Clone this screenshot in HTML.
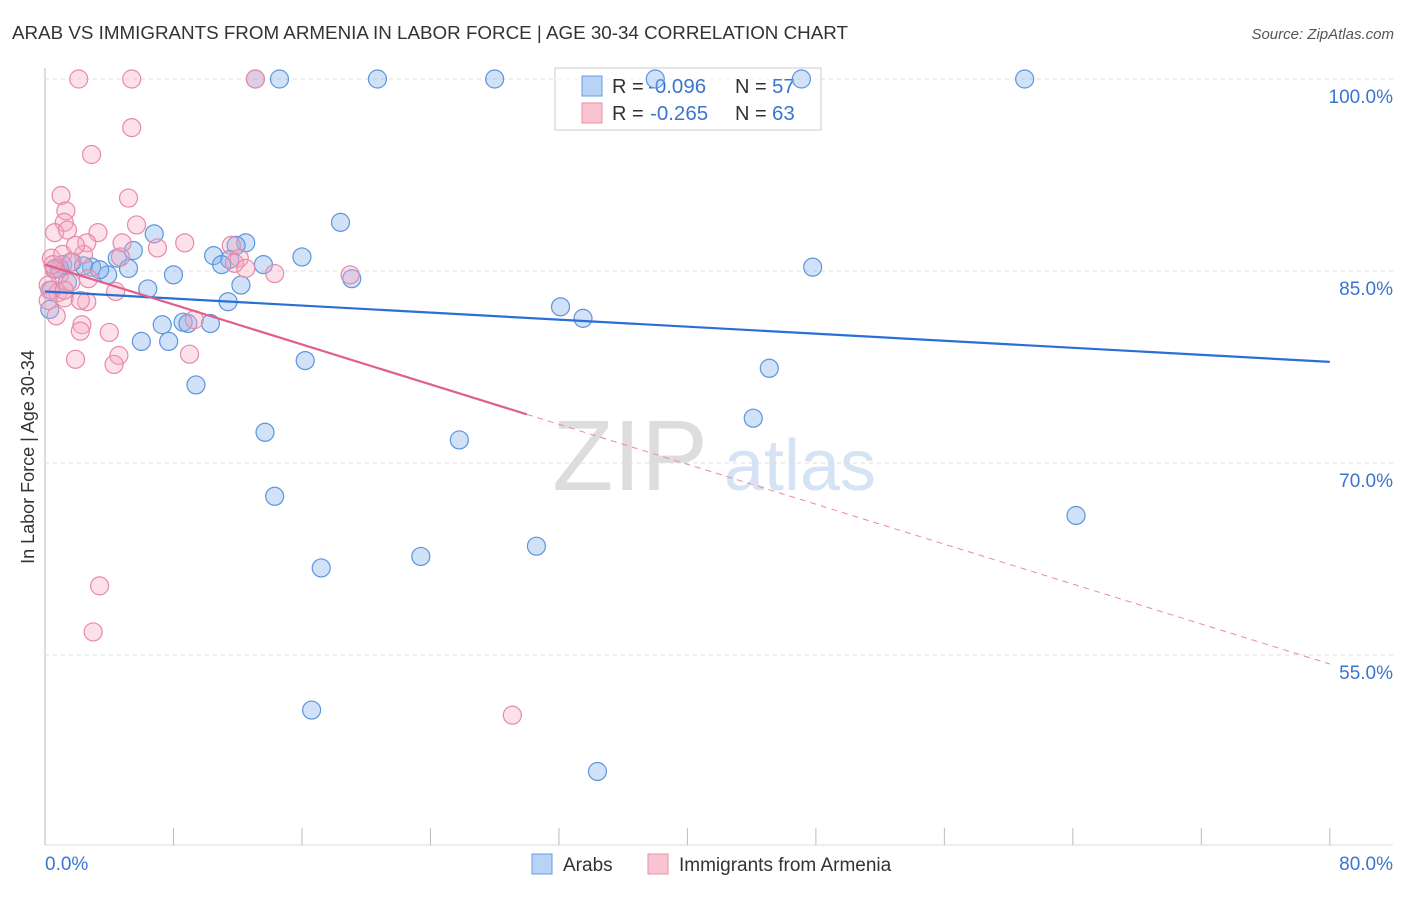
<!DOCTYPE html>
<html><head><meta charset="utf-8"><style>
body{margin:0;background:#fff;font-family:"Liberation Sans",sans-serif}
svg text{font-family:"Liberation Sans",sans-serif}
</style></head><body>
<svg id="c" width="1406" height="892" xmlns="http://www.w3.org/2000/svg">
<text x="12" y="39" font-size="18.8" fill="#333">ARAB VS IMMIGRANTS FROM ARMENIA IN LABOR FORCE | AGE 30-34 CORRELATION CHART</text>
<text x="1394" y="39" font-size="15" fill="#555" font-style="italic" text-anchor="end">Source: ZipAtlas.com</text>
<text x="630" y="490" font-size="100" fill="#ddd" font-family="Liberation Serif,serif" text-anchor="middle">ZIP</text>
<text x="800" y="490" font-size="72" fill="#d5e3f5" text-anchor="middle">atlas</text>
<text transform="translate(34,457) rotate(-90)" font-size="18" fill="#333" text-anchor="middle">In Labor Force | Age 30-34</text>
<g id="grid"></g>
<g>
<rect x="555" y="68" width="266" height="62" fill="rgba(255,255,255,0.6)" stroke="#ccc"/>
<rect x="582" y="76" width="20" height="20" fill="#b8d3f5" stroke="#6a9de0"/>
<rect x="582" y="103" width="20" height="20" fill="#f9c4d2" stroke="#e98faa"/>
<text x="612" y="93" font-size="20" fill="#333">R =</text>
<text x="648" y="93" font-size="20.5" fill="#3a75d0">-0.096</text>
<text x="735" y="93" font-size="20" fill="#333">N =</text>
<text x="772" y="93" font-size="20.5" fill="#3a75d0">57</text>
<text x="612" y="120" font-size="20" fill="#333">R =</text>
<text x="650" y="120" font-size="20.5" fill="#3a75d0">-0.265</text>
<text x="735" y="120" font-size="20" fill="#333">N =</text>
<text x="772" y="120" font-size="20.5" fill="#3a75d0">63</text>
</g>
<g id="pts"></g><g id="lines"></g>
<g>
<rect x="532" y="854" width="20" height="20" fill="#b8d3f5" stroke="#6a9de0"/>
<text x="563" y="871" font-size="19" fill="#333">Arabs</text>
<rect x="648" y="854" width="20" height="20" fill="#f9c4d2" stroke="#e98faa"/>
<text x="679" y="871" font-size="19" fill="#333">Immigrants from Armenia</text>
</g>
<text x="45" y="870" font-size="19" fill="#3a75d0">0.0%</text>
<text x="1393" y="870" font-size="19" fill="#3a75d0" text-anchor="end">80.0%</text>
</svg>
<script>
const yTicks=[100,85,70,55];
const yTickLabels=["100.0%","85.0%","70.0%","55.0%"];
const xTicks=[0,8,16,24,32,40,48,56,64,72,80];
const blueX=[13.1,14.6,20.7,28.0,38.0,47.1,61.0,18.4,6.8,12.5,11.9,16.0,10.5,11.5,5.5,4.5,13.6,11.0,5.2,3.9,2.9,1.1,1.7,2.4,0.6,8.0,47.8,19.1,12.2,6.4,11.4,32.1,33.5,7.3,8.6,10.3,8.9,6.0,7.7,16.2,9.4,45.1,44.1,13.7,25.8,14.3,64.2,30.6,23.4,17.2,16.6,34.4,0.3,0.4,0.9,3.4,1.4];
const blueY=[100,100,100,100,100,100,100,88.8,87.9,87.2,87.0,86.1,86.2,85.9,86.6,86.0,85.5,85.5,85.2,84.7,85.3,85.5,85.7,85.4,85.2,84.7,85.3,84.4,83.9,83.6,82.6,82.2,81.3,80.8,81.0,80.9,80.9,79.5,79.5,78.0,76.1,77.4,73.5,72.4,71.8,67.4,65.9,63.5,62.7,61.8,50.7,45.9,82.0,83.5,85.2,85.1,84.1];
const pinkX=[2.1,5.4,13.1,5.4,2.9,1.0,5.2,1.3,5.7,1.2,0.6,1.4,3.3,2.6,4.8,8.7,7.0,11.6,2.4,4.7,12.1,11.8,12.5,14.3,19.0,0.4,0.6,0.9,2.7,1.6,0.2,0.8,1.2,2.6,4.4,0.7,2.3,2.2,4.0,9.3,1.9,4.6,4.3,9.0,3.4,3.0,29.1,0.3,0.5,1.1,1.9,0.2,1.2,2.2,1.6];
const pinkY=[100,100,100,96.2,94.1,90.9,90.7,89.7,88.6,88.8,88.0,88.2,88.0,87.2,87.2,87.2,86.8,87.0,86.3,86.1,86.0,85.6,85.2,84.8,84.7,86.0,85.1,84.7,84.4,84.1,83.9,83.3,82.9,82.6,83.4,81.5,80.8,80.3,80.2,81.2,78.1,78.4,77.7,78.5,60.4,56.8,50.3,83.5,85.5,86.3,87.0,82.7,83.5,82.7,85.7];
const blueTrend=[83.4,77.9];
const pinkTrend=[85.5,54.3];
const pinkSolidEnd=30;
const X=v=>45+v*16.06, Y=v=>79+(100-v)*12.8;
const NS="http://www.w3.org/2000/svg";
function mk(t,a,p){const e=document.createElementNS(NS,t);for(const k in a)e.setAttribute(k,a[k]);p.appendChild(e);return e;}
const grid=document.getElementById('grid');
mk('line',{x1:45,y1:68,x2:45,y2:845,stroke:'#bbb'},grid);
mk('line',{x1:45,y1:845,x2:1393,y2:845,stroke:'#ddd'},grid);
yTicks.forEach((t,i)=>{
 const l=mk('line',{x1:45,y1:Y(t),x2:1393,y2:Y(t),stroke:'#ddd','stroke-dasharray':'4,4'},grid);
 
 
 const tx=mk('text',{x:1393,y:Y(t)+24,'font-size':19,fill:'#3a75d0','text-anchor':'end'},grid);
 tx.textContent=yTickLabels[i];
 
 
});
xTicks.forEach(t=>{
 const l=mk('line',{x1:X(t),y1:828,x2:X(t),y2:845,stroke:'#bbb'},grid);
 
 
});
const pts=document.getElementById('pts');
blueX.forEach((v,i)=>{
 const c=mk('circle',{cx:X(v),cy:Y(blueY[i]),r:9,fill:'rgba(140,180,235,0.4)',stroke:'#5b95dd','stroke-width':1.2},pts);
 
 
});
pinkX.forEach((v,i)=>{
 const c=mk('circle',{cx:X(v),cy:Y(pinkY[i]),r:9,fill:'rgba(245,170,195,0.35)',stroke:'#e88aa5','stroke-width':1.2},pts);
 
 
});
const ln=document.getElementById('lines');
const bt=mk('line',{x1:X(0),y1:Y(blueTrend[0]),x2:X(80),y2:Y(blueTrend[1]),stroke:'#2a6fd6','stroke-width':2.2},ln);


const py=x=>pinkTrend[0]+(pinkTrend[1]-pinkTrend[0])*x/80;
const ps=mk('line',{x1:X(0),y1:Y(py(0)),x2:X(pinkSolidEnd),y2:Y(py(pinkSolidEnd)),stroke:'#e0608a','stroke-width':2.2},ln);


const pd=mk('line',{x1:X(pinkSolidEnd),y1:Y(py(pinkSolidEnd)),x2:X(80),y2:Y(py(80)),stroke:'#e88aa5','stroke-width':1,'stroke-dasharray':'6,5'},ln);


</script>
</body></html>
